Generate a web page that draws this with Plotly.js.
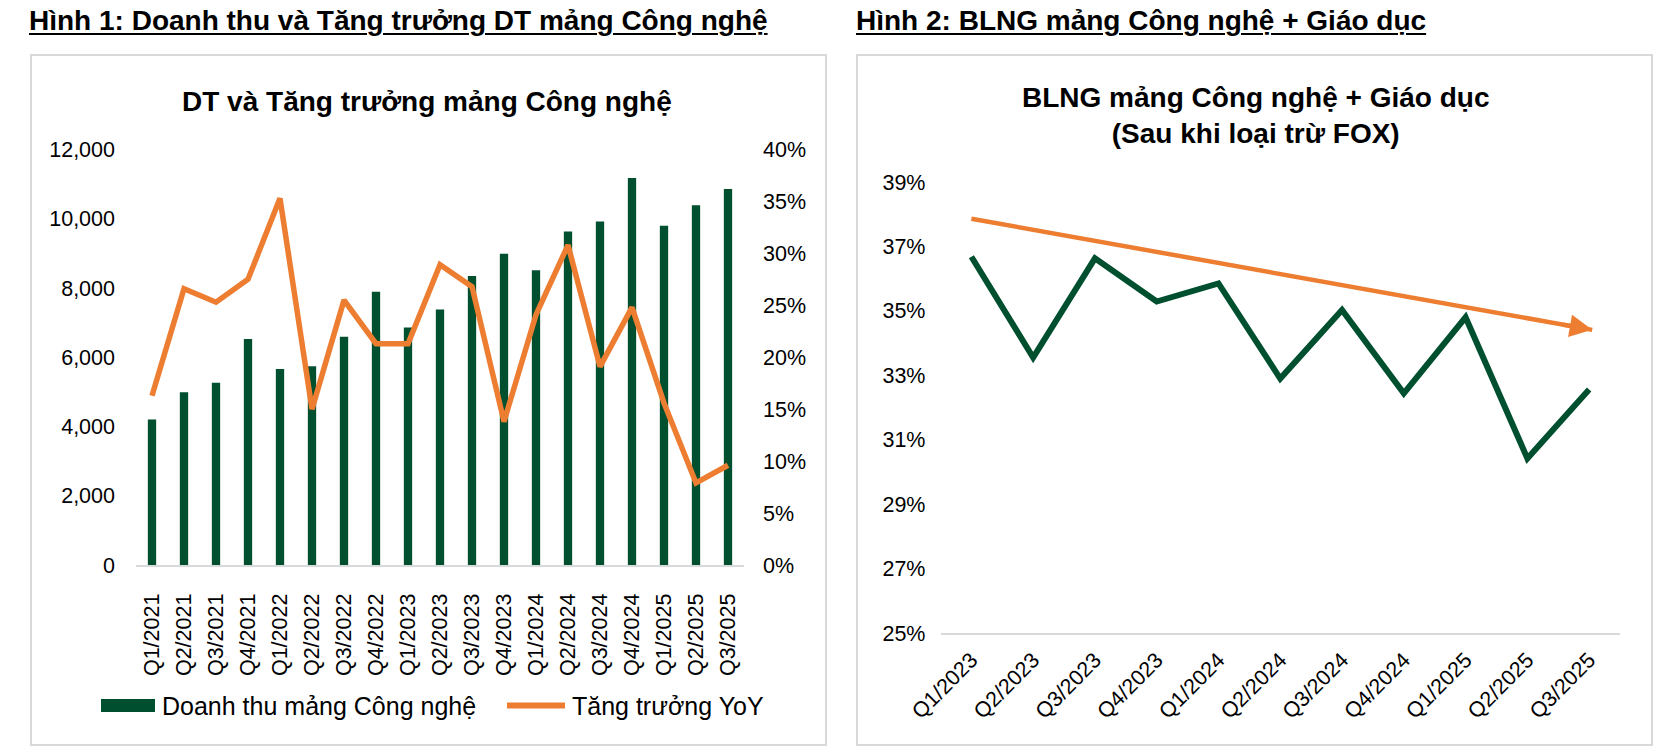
<!DOCTYPE html>
<html>
<head>
<meta charset="utf-8">
<script src="https://cdn.plot.ly/plotly-3.0.1.min.js"></script>
<style>
  html, body { margin: 0; padding: 0; background: #fff; }
  #wrap { position: relative; width: 1661px; height: 753px; overflow: hidden; }
  #chart { position: absolute; left: 0; top: 0; width: 1661px; height: 753px; }
  .hdr { position: absolute; top: 5px; font-family: "Liberation Sans Narrow", "Liberation Sans", Arial, sans-serif;
         font-weight: bold; font-size: 28px; line-height: 32px; color: #000; text-decoration: underline;
         text-underline-offset: 3px; text-decoration-thickness: 2px; white-space: nowrap; z-index: 5; }
</style>
</head>
<body>
<div id="wrap">
  <div id="chart"></div>
  <div class="hdr" id="h1" style="left:29px;">Hình 1: Doanh thu và Tăng trưởng DT mảng Công nghệ</div>
  <div class="hdr" id="h2" style="left:856px;">Hình 2: BLNG mảng Công nghệ + Giáo dục</div>
</div>
<script>
// ---- Data: Figure 1 ----
const quarters1 = ["Q1/2021","Q2/2021","Q3/2021","Q4/2021","Q1/2022","Q2/2022","Q3/2022","Q4/2022",
                   "Q1/2023","Q2/2023","Q3/2023","Q4/2023","Q1/2024","Q2/2024","Q3/2024","Q4/2024",
                   "Q1/2025","Q2/2025","Q3/2025"];
const revenueTech = [4200, 4990, 5260, 6530, 5660, 5740, 6590, 7890, 6860, 7380, 8350, 8990,
                     8510, 9630, 9920, 11180, 9800, 10390, 10860];
const growthYoY = [16.3, 26.6, 25.3, 27.5, 35.3, 15.0, 25.5, 21.3, 21.3, 28.9, 26.8, 13.8,
                   24.1, 30.8, 19.1, 24.8, 15.6, 7.9, 9.6]; // %
const revTicks = [0, 2000, 4000, 6000, 8000, 10000, 12000];
const growthTicks = [0, 5, 10, 15, 20, 25, 30, 35, 40];

// ---- Data: Figure 2 ----
const quarters2 = ["Q1/2023","Q2/2023","Q3/2023","Q4/2023","Q1/2024","Q2/2024","Q3/2024","Q4/2024",
                   "Q1/2025","Q2/2025","Q3/2025"];
const grossMargin = [36.68, 33.55, 36.63, 35.29, 35.85, 32.90, 35.03, 32.44, 34.80, 30.42, 32.56]; // %
const trendPos = [0, 10.05];        // position on the quarter axis (0 = Q1/2023)
const trendValues = [37.86, 34.41]; // %
const marginTicks = [25, 27, 29, 31, 33, 35, 37, 39];
const marginTickText = marginTicks.map(v => v + "%");
const quarterPos2 = quarters2.map((q, i) => i);

// ---- Text ----
const title1 = "DT và Tăng trưởng mảng Công nghệ";
const title2a = "BLNG mảng Công nghệ + Giáo dục";
const title2b = "(Sau khi loại trừ FOX)";
const legendBar = "Doanh thu mảng Công nghệ";
const legendLine = "Tăng trưởng YoY";

const GREEN = "#004F2F", ORANGE = "#ED7D31", GRID = "#d9d9d9";
const FONT = "Liberation Sans, Arial, sans-serif";
const W = 1661, H = 753;
const px = x => x / W, py = y => 1 - y / H;

// point a little back along the trend line, used only to orient the arrowhead
const backPos = trendPos[1] - 0.5;
const backVal = trendValues[0] + (trendValues[1] - trendValues[0]) * (backPos - trendPos[0]) / (trendPos[1] - trendPos[0]);

const traces = [
  { type: "bar", x: quarters1, y: revenueTech, xaxis: "x", yaxis: "y",
    marker: { color: GREEN }, name: legendBar, showlegend: false },
  { type: "scatter", mode: "lines", x: quarters1, y: growthYoY.map(v => v / 100), xaxis: "x", yaxis: "y2",
    line: { color: ORANGE, width: 5.5 }, name: legendLine, showlegend: false },
  { type: "scatter", mode: "lines", x: quarterPos2, y: grossMargin, xaxis: "x3", yaxis: "y3",
    line: { color: GREEN, width: 6 }, showlegend: false },
  { type: "scatter", mode: "lines", x: trendPos, y: trendValues, xaxis: "x3", yaxis: "y3",
    line: { color: ORANGE, width: 4.5 }, showlegend: false }
];

const tickFont = { family: FONT, size: 21.5, color: "#000" };

const layout = {
  width: W, height: H,
  margin: { l: 0, r: 0, t: 0, b: 0 },
  paper_bgcolor: "#fff", plot_bgcolor: "rgba(0,0,0,0)",
  font: { family: FONT, color: "#000" },
  bargap: 0.74,
  showlegend: false,
  xaxis: { domain: [px(136), px(744)], anchor: "y", type: "category", tickangle: -90,
           tickfont: tickFont, ticks: "", showgrid: false, showline: true, linecolor: GRID, linewidth: 2,
           ticklabelstandoff: 18, fixedrange: true },
  yaxis: { domain: [py(565), py(149.5)], range: [0, 12000], tickvals: revTicks, tickformat: ",d",
           tickfont: tickFont, showgrid: false, zeroline: false, ticks: "", ticklabelstandoff: 20, fixedrange: true },
  yaxis2: { overlaying: "y", side: "right", anchor: "x", range: [0, 0.40],
            tickvals: growthTicks.map(v => v / 100), tickformat: ".0%",
            tickfont: tickFont, showgrid: false, zeroline: false, ticks: "", ticklabelstandoff: 18, fixedrange: true },
  xaxis3: { domain: [px(940.5), px(1620)], anchor: "y3", type: "linear", range: [-0.5, quarters2.length - 0.5],
            tickmode: "array", tickvals: quarterPos2, ticktext: quarters2, tickangle: -45,
            tickfont: tickFont, ticks: "", showgrid: false, zeroline: false, showline: true, linecolor: GRID, linewidth: 2,
            ticklabelstandoff: 4, fixedrange: true },
  yaxis3: { domain: [py(633), py(182)], anchor: "x3", range: [25, 39], tickmode: "array",
            tickvals: marginTicks, ticktext: marginTickText,
            tickfont: tickFont, showgrid: false, zeroline: false, ticks: "", ticklabelstandoff: 14, fixedrange: true },
  shapes: [
    { type: "rect", xref: "paper", yref: "paper", x0: px(31), x1: px(826), y0: py(745), y1: py(55),
      line: { color: GRID, width: 2 }, fillcolor: "rgba(0,0,0,0)", layer: "below" },
    { type: "rect", xref: "paper", yref: "paper", x0: px(857), x1: px(1652), y0: py(745), y1: py(55),
      line: { color: GRID, width: 2 }, fillcolor: "rgba(0,0,0,0)", layer: "below" },
    { type: "rect", xref: "paper", yref: "paper", x0: px(101), x1: px(155), y0: py(712), y1: py(699),
      line: { width: 0 }, fillcolor: GREEN },
    { type: "line", xref: "paper", yref: "paper", x0: px(507), x1: px(565), y0: py(705.5), y1: py(705.5),
      line: { color: ORANGE, width: 6 } }
  ],
  annotations: [
    { xref: "x3", yref: "y3", x: trendPos[1], y: trendValues[1], axref: "x3", ayref: "y3",
      ax: backPos, ay: backVal, text: "", showarrow: true, arrowhead: 2, arrowsize: 1.0,
      arrowwidth: 4.5, arrowcolor: ORANGE, standoff: 0, startstandoff: 0 },
    { xref: "paper", yref: "paper", x: px(427), y: py(101), xanchor: "center", yanchor: "middle",
      text: "<b>" + title1 + "</b>", showarrow: false, font: { family: FONT, size: 28, color: "#000" } },
    { xref: "paper", yref: "paper", x: px(1255), y: py(116), xanchor: "center", yanchor: "middle",
      text: "<b>" + title2a + "</b><br><b>" + title2b + "</b>", showarrow: false,
      font: { family: FONT, size: 28, color: "#000" } },
    { xref: "paper", yref: "paper", x: px(160), y: py(705.5), xanchor: "left", yanchor: "middle",
      text: legendBar, showarrow: false, font: { family: FONT, size: 25, color: "#000" } },
    { xref: "paper", yref: "paper", x: px(570), y: py(705.5), xanchor: "left", yanchor: "middle",
      text: legendLine, showarrow: false, font: { family: FONT, size: 25, color: "#000" } }
  ]
};

Plotly.newPlot("chart", traces, layout, { displayModeBar: false, staticPlot: true });
</script>
</body>
</html>
